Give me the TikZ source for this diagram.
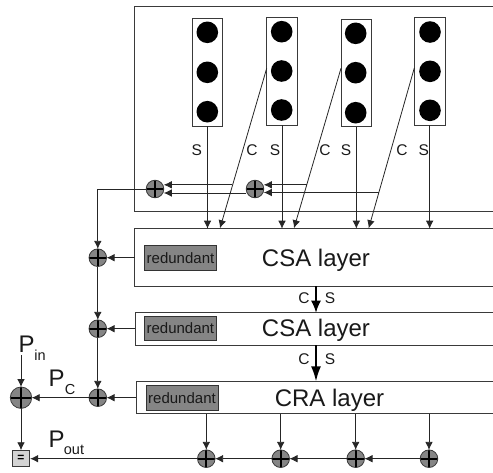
\documentclass[tikz,border=0pt]{standalone}
\usepackage{fontspec}
\setmainfont{Liberation Sans}
\usetikzlibrary{arrows.meta,calc}
\definecolor{fillgray}{HTML}{858585}
\definecolor{linegray}{HTML}{3A3A3A}
\definecolor{eqgray}{HTML}{D4D4D4}
\tikzset{
  box/.style={draw=linegray,line width=0.9pt,anchor=north west,inner sep=0pt,outer sep=0pt,fill=white},
  redbox/.style={draw=black!80,line width=0.9pt,fill=fillgray,inner sep=0pt,outer sep=0pt,
     minimum width=72pt,minimum height=24.6pt,font=\fontsize{15}{15}\selectfont,text=black!90},
  dot/.style={circle,fill=black,inner sep=0pt,minimum size=21.6pt},
  xor/.style={circle,draw=linegray,line width=0.8pt,fill=fillgray,inner sep=0pt,outer sep=0pt,minimum size=#1,
     path picture={\draw[black,line width=2pt]
        (path picture bounding box.north) -- (path picture bounding box.south)
        (path picture bounding box.west) -- (path picture bounding box.east);}},
  xor/.default=17.6pt,
  wire/.style={draw=black!85,line width=0.8pt},
  arr/.style={wire,-{Latex[length=8pt,width=7.6pt]}},
  thickarr/.style={draw=black,line width=1.6pt,-{Latex[length=12pt,width=10pt]}},
  sc/.style={inner sep=0pt,font=\fontsize{15.5}{15.5}\selectfont,text=black!90},
  layertext/.style={inner sep=0pt,anchor=base,font=\fontsize{24}{24}\selectfont,text=black!90},
  bigp/.style={inner sep=0pt,font=\fontsize{24}{24}\selectfont,text=black!90},
  subp/.style={inner sep=0pt,font=\fontsize{14.5}{14.5}\selectfont,text=black!90},
}
\begin{document}
\begin{tikzpicture}[x=1pt,y=-1pt]
\path[use as bounding box,clip] (0,0) rectangle (493,472);
% outer boxes
\node[box,minimum width=370pt,minimum height=204.3pt] (top) at (134.5,6.7) {};
\node[box,minimum width=370pt,minimum height=57.6pt] (l1) at (134.5,228.7) {};
\node[box,minimum width=370pt,minimum height=32.3pt] (l2) at (135,312.7) {};
\node[box,minimum width=370pt,minimum height=32.4pt] (l3) at (136.3,381.3) {};
% columns
\node[box,minimum width=30.4pt,minimum height=107.7pt] (c1) at (192.3,18.3) {};
\node[box,minimum width=30.6pt,minimum height=107.7pt] (c2) at (266.7,17.3) {};
\node[box,minimum width=30.7pt,minimum height=107.4pt] (c3) at (341,19.3) {};
\node[box,minimum width=30.7pt,minimum height=107.6pt] (c4) at (414.3,17.7) {};
\node[dot] (d11) at (207.3,32.3) {};
\node[dot] (d12) at (207.3,72.3) {};
\node[dot] (d13) at (207.3,111.7) {};
\node[dot] (d21) at (281.7,31.7) {};
\node[dot] (d22) at (281.7,71) {};
\node[dot] (d23) at (281.7,110) {};
\node[dot] (d31) at (355.7,33.3) {};
\node[dot] (d32) at (355.7,72.7) {};
\node[dot] (d33) at (355.7,112.7) {};
\node[dot] (d41) at (430,32) {};
\node[dot] (d42) at (430,71.3) {};
\node[dot] (d43) at (430,110.3) {};
% connector end coordinates
\coordinate (ct1) at (266.7,68.3);
\coordinate (ct2) at (341,68.3);
\coordinate (ct3) at (414.3,68);
\coordinate (ce1) at (220,228.2);
\coordinate (ce2) at (294,228.2);
\coordinate (ce3) at (368.7,228.2);
\coordinate (tap1) at (232.3,184.8);
\coordinate (tap2) at (306.5,184.8);
\coordinate (tap3) at (378.8,192.5);
\coordinate (pintop) at (21,355);
% xor nodes
\node[xor] (x1) at (155,189) {};
\node[xor] (x2) at (255,189) {};
\node[xor] (a1) at (97.8,257.7) {};
\node[xor] (a2) at (97.8,328.7) {};
\node[xor] (a3) at (97.8,397.7) {};
\node[xor=21.4pt] (big) at (21,397.7) {};
\node[xor] (b1) at (206.3,458.7) {};
\node[xor] (b2) at (280.7,458.7) {};
\node[xor] (b3) at (355.7,458.7) {};
\node[xor] (b4) at (429,458.7) {};
\node[draw=linegray,line width=0.9pt,fill=eqgray,inner sep=0pt,minimum width=17.4pt,minimum height=16pt,font=\fontsize{12}{12}\selectfont\bfseries] (eq) at (21,458.7) {=};
% redundant boxes
\node[redbox] (r1) at (180.5,258) {redundant};
\node[redbox] (r2) at (180.4,328.3) {redundant};
\node[redbox] (r3) at (182,397.7) {redundant};
% layer labels
\node[layertext] (t1) at (316,266) {CSA layer};
\node[layertext] (t2) at (316,336.7) {CSA layer};
\node[layertext] (t3) at (329.5,406) {CRA layer};
% S / C labels
\node[sc] (s1) at (196.7,150.5) {S};
\node[sc] (k1) at (252,150) {C};
\node[sc] (s2) at (275,150.5) {S};
\node[sc] (k2) at (325,150) {C};
\node[sc] (s3) at (346,150.5) {S};
\node[sc] (k3) at (402,150) {C};
\node[sc] (s4) at (423.7,150.5) {S};
\node[sc] (m1) at (304,298) {C};
\node[sc] (m2) at (330,298) {S};
\node[sc] (m3) at (304,359) {C};
\node[sc] (m4) at (330,359) {S};
% P labels
\node[bigp] (pin) at (26.7,344) {P};
\node[subp] (pins) at (40,355) {in};
\node[bigp] (pc) at (56.7,378) {P};
\node[subp] (pcs) at (70,389.5) {C};
\node[bigp] (pout) at (56.7,439) {P};
\node[subp] (pouts) at (74,450) {out};
% S wires
\draw[arr] (c1.south) -- (c1.south |- l1.north);
\draw[arr] (c2.south) -- (c2.south |- l1.north);
\draw[arr] (c3.south) -- (c3.south |- l1.north);
\draw[arr] (c4.south) -- (c4.south |- l1.north);
% C wires
\draw[arr] (ct1) -- (ce1);
\draw[arr] (ct2) -- (ce2);
\draw[arr] (ct3) -- (ce3);
% taps
\draw[arr] (tap1) -- (tap1 -| x1.east);
\draw[arr] (x2.west |- 0,193) -- (x1.east |- 0,193);
\draw[arr] (tap2) -- (tap2 -| x2.east);
\draw[arr] (tap3) -- (tap3 -| x2.east);
% left trunk
\draw[arr] (x1.west) -| (a1.north);
\draw[arr] (a1.south) -- (a2.north);
\draw[arr] (a2.south) -- (a3.north);
\draw[arr] (l1.west |- a1) -- (a1.east);
\draw[arr] (l2.west |- a2) -- (a2.east);
\draw[arr] (l3.west |- a3) -- (a3.east);
\draw[arr] (a3.west) -- (big.east);
\draw[arr] (pintop) -- (big.north);
\draw[arr] (big.south) -- (eq.north);
% bottom row
\draw[arr] (b1.north |- l3.south) -- (b1.north);
\draw[arr] (b2.north |- l3.south) -- (b2.north);
\draw[arr] (b3.north |- l3.south) -- (b3.north);
\draw[arr] (b4.north |- l3.south) -- (b4.north);
\draw[arr] (b4.west) -- (b3.east);
\draw[arr] (b3.west) -- (b2.east);
\draw[arr] (b2.west) -- (b1.east);
\draw[arr] (b1.west) -- (eq.east);
% layer to layer
\coordinate (mid) at (316,300);
\draw[thickarr] (mid |- l1.south) -- (mid |- l2.north);
\draw[thickarr,-{Latex[length=15pt,width=10pt]}] (mid |- l2.south) -- (mid |- l3.north);
\end{tikzpicture}
\end{document}
